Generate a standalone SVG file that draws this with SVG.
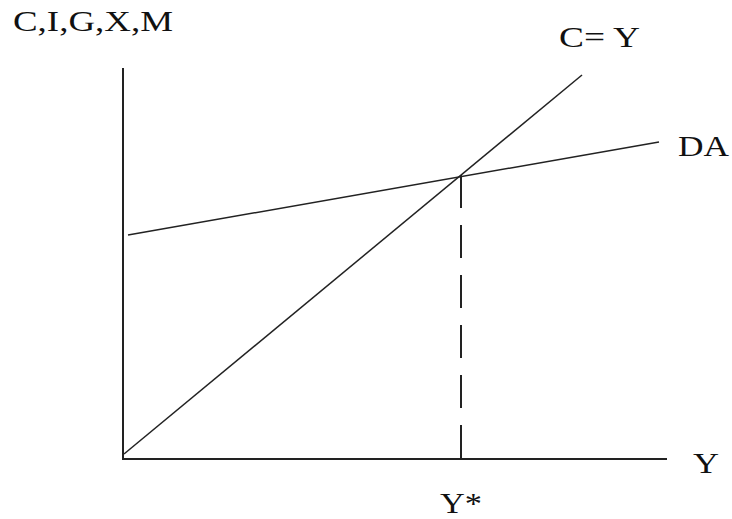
<svg xmlns="http://www.w3.org/2000/svg" width="732" height="519" viewBox="0 0 732 519">
<style>
.ax{stroke:#222;stroke-width:2;fill:none}
.ln{stroke:#222;stroke-width:1.5;fill:none}
.dash{stroke:#222;stroke-width:2;fill:none;stroke-dasharray:33 17}
text{font-family:"Liberation Serif","Times New Roman",serif;font-size:30px;fill:#111}
</style>
<rect width="732" height="519" fill="#fff"/>
<g id="connectors">
<line class="ax" x1="123" y1="68" x2="123" y2="460"/>
<line class="ax" x1="122" y1="459" x2="667" y2="459"/>
<line class="ln" x1="124" y1="454" x2="582" y2="75"/>
<line class="ln" x1="128" y1="235" x2="659" y2="142"/>
<line class="dash" x1="461" y1="175" x2="461" y2="467"/>
</g>
<g id="labels">
<text id="yaxis" x="13" y="31" textLength="160" lengthAdjust="spacingAndGlyphs">C,I,G,X,M</text>
<text id="cy" x="559" y="47" textLength="81" lengthAdjust="spacingAndGlyphs">C= Y</text>
<text id="da" x="678" y="156" textLength="51" lengthAdjust="spacingAndGlyphs">DA</text>
<text id="xaxis" x="693" y="473" textLength="26" lengthAdjust="spacingAndGlyphs">Y</text>
<text id="ystar" x="440" y="513" textLength="42" lengthAdjust="spacingAndGlyphs">Y*</text>
</g>
</svg>
